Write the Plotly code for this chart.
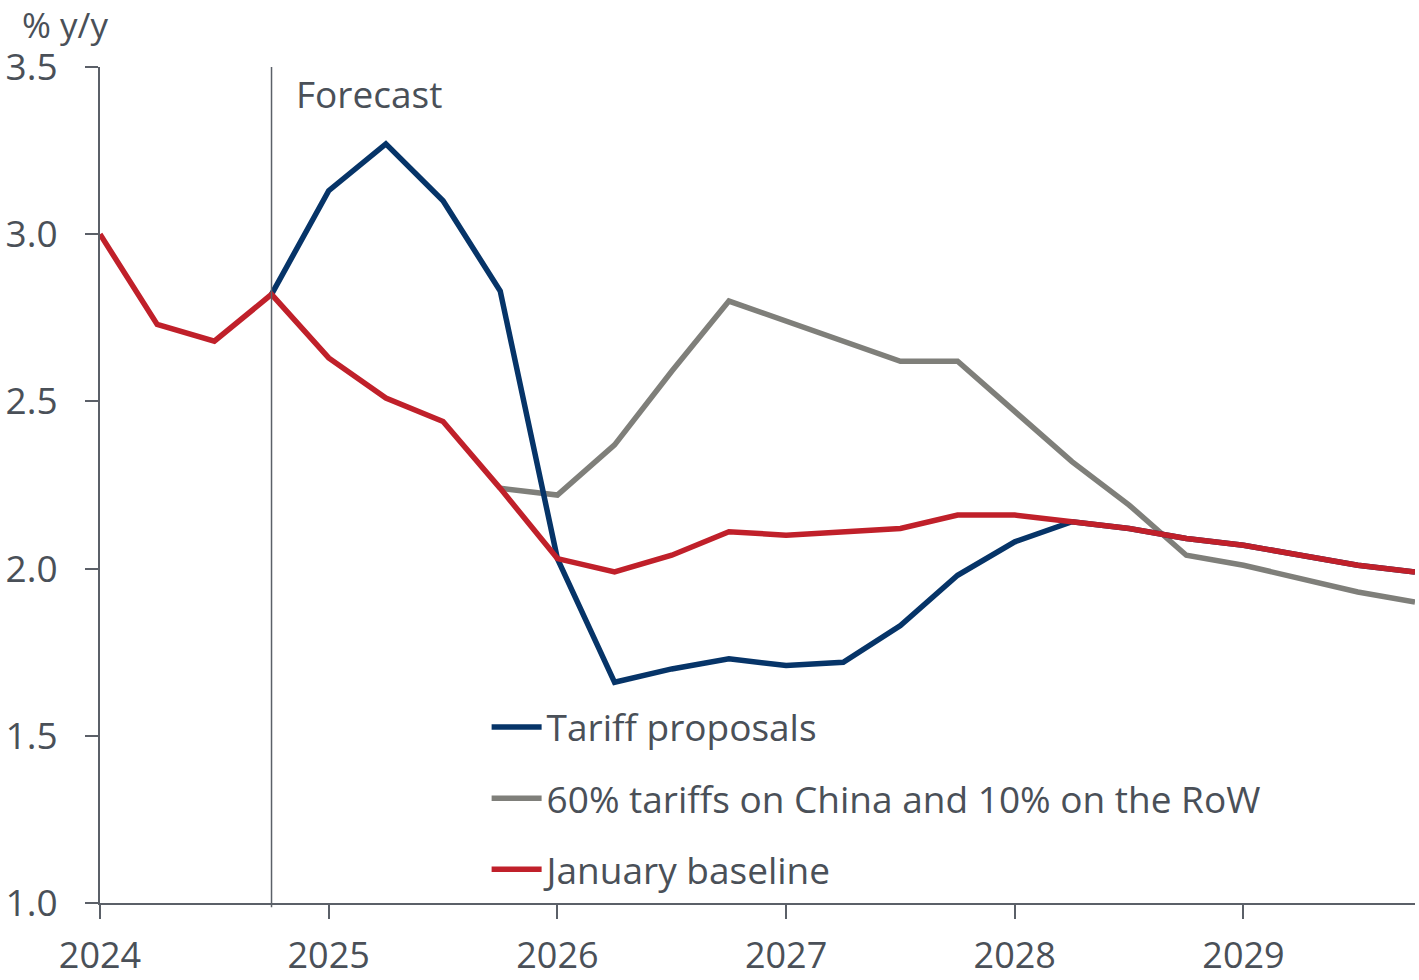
import plotly.graph_objects as go

# Quarterly periods, 2024 Q1 – 2029 Q4 (as fractional years)
quarters = [2024 + i * 0.25 for i in range(24)]

# CPI inflation, % y/y
january_baseline = [3.00, 2.73, 2.68, 2.82, 2.63, 2.51, 2.44, 2.24,
                    2.03, 1.99, 2.04, 2.11, 2.10, 2.11, 2.12, 2.16,
                    2.16, 2.14, 2.12, 2.09, 2.07, 2.04, 2.01, 1.99]
tariff_proposals = [None, None, None, 2.82, 3.13, 3.27, 3.10, 2.83,
                    2.03, 1.66, 1.70, 1.73, 1.71, 1.72, 1.83, 1.98,
                    2.08, 2.14, 2.12, 2.09, 2.07, 2.04, 2.01, 1.99]
china_row_tariffs = [None, None, None, None, None, None, None, 2.24,
                     2.22, 2.37, 2.59, 2.80, 2.74, 2.68, 2.62, 2.62,
                     2.47, 2.32, 2.19, 2.04, 2.01, 1.97, 1.93, 1.90]

year_ticks = [2024, 2025, 2026, 2027, 2028, 2029]
year_labels = ["2024", "2025", "2026", "2027", "2028", "2029"]
y_ticks = [1.0, 1.5, 2.0, 2.5, 3.0, 3.5]
y_labels = ["1.0", "1.5", "2.0", "2.5", "3.0", "3.5"]
forecast_start = 2024.75

FONT = "Open Sans"
TEXT = "#4a5058"
AXIS = "#5b6068"

fig = go.Figure()
fig.add_trace(go.Scatter(x=quarters, y=china_row_tariffs, mode="lines",
                         name="60% tariffs on China and 10% on the RoW",
                         line=dict(color="#7f7f7a", width=5.5),
                         legendrank=2, legendgroup="b"))
fig.add_trace(go.Scatter(x=quarters, y=tariff_proposals, mode="lines",
                         name="Tariff proposals",
                         line=dict(color="#063468", width=5.5),
                         legendrank=1, legendgroup="a"))
fig.add_trace(go.Scatter(x=quarters, y=january_baseline, mode="lines",
                         name="January baseline",
                         line=dict(color="#c0202a", width=5.5),
                         legendrank=3, legendgroup="c"))

# Forecast divider
fig.add_shape(type="line", xref="x", yref="paper",
              x0=forecast_start, x1=forecast_start, y0=-0.005, y1=1,
              line=dict(color=AXIS, width=1.5))

fig.add_annotation(x=forecast_start, y=3.5, xref="x", yref="y",
                   text="Forecast", showarrow=False,
                   xanchor="left", yanchor="top", xshift=22, yshift=1,
                   font=dict(family=FONT, size=37, color=TEXT))
fig.add_annotation(x=0, y=1, xref="paper", yref="paper",
                   text="% y/y", showarrow=False,
                   xanchor="left", yanchor="middle", xshift=-80, yshift=43,
                   font=dict(family=FONT, size=35, color=TEXT))

fig.update_layout(
    width=1419, height=980,
    margin=dict(l=100, r=4, t=67, b=77),
    paper_bgcolor="white", plot_bgcolor="white",
    font=dict(family=FONT, size=37, color=TEXT),
    showlegend=True,
    legend=dict(x=0.294, y=0.247, xanchor="left", yanchor="top",
                bgcolor="rgba(0,0,0,0)", traceorder="grouped",
                tracegroupgap=20, itemwidth=50,
                font=dict(family=FONT, size=37, color=TEXT)),
    xaxis=dict(range=[2024, 2029.75], tickvals=year_ticks, ticktext=year_labels,
               showgrid=False, zeroline=False, showline=True, automargin=False,
               linecolor=AXIS, linewidth=2, ticks="outside", ticklen=14,
               tickwidth=2, tickcolor=AXIS, ticklabelstandoff=6,
               tickfont=dict(family=FONT, size=36, color=TEXT)),
    yaxis=dict(range=[1.0, 3.5], tickvals=y_ticks, ticktext=y_labels,
               showgrid=False, zeroline=False, showline=True, automargin=False,
               linecolor=AXIS, linewidth=2, ticks="outside", ticklen=13,
               tickwidth=2, tickcolor=AXIS, ticklabelstandoff=20),
)

fig.write_html("out.html")
